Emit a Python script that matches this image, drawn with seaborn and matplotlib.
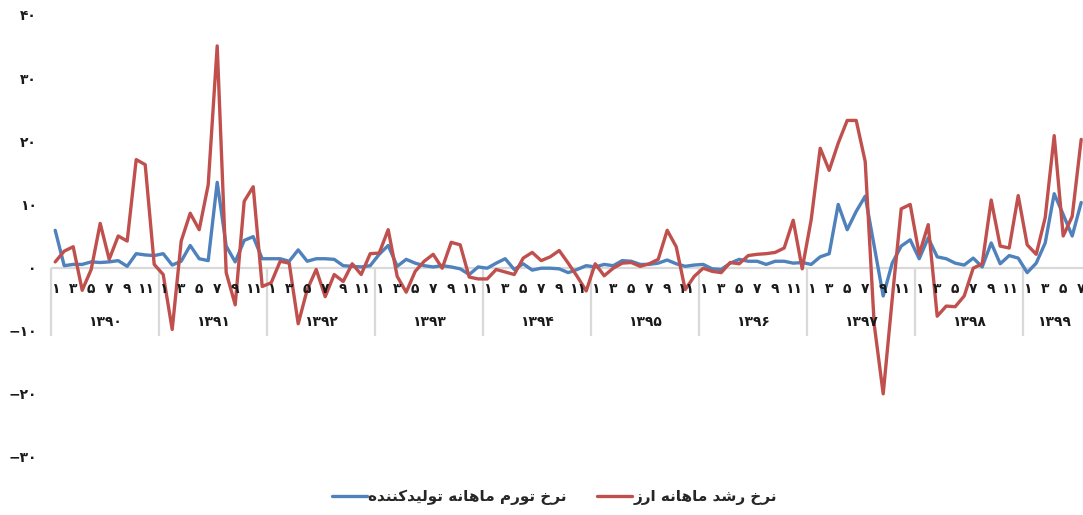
import numpy as np
import pandas as pd
import matplotlib
matplotlib.use("Agg")
import matplotlib.pyplot as plt
import seaborn as sns

# ---------------- data ----------------
years = ["۱۳۹۰", "۱۳۹۱", "۱۳۹۲", "۱۳۹۳", "۱۳۹۴", "۱۳۹۵", "۱۳۹۶", "۱۳۹۷", "۱۳۹۸", "۱۳۹۹"]
months_per_year = [12, 12, 12, 12, 12, 12, 12, 12, 12, 7]
month_labels = ["۱", "۳", "۵", "۷", "۹", "۱۱"]
month_label_numbers = [1, 3, 5, 7, 9, 11]

series_ppi = "نرخ تورم ماهانه تولیدکننده"
series_fx = "نرخ رشد ماهانه ارز"

ppi = [5.9, 0.3, 0.5, 0.5, 0.9, 0.8, 0.9, 1.1, 0.2, 2.2, 2.0, 1.9,
       2.2, 0.4, 1.0, 3.5, 1.4, 1.1, 13.5, 3.4, 0.9, 4.3, 4.9, 1.4,
       1.4, 1.4, 1.0, 2.8, 1.0, 1.4, 1.4, 1.3, 0.3, 0.2, 0.1, 0.3,
       2.1, 3.5, 0.2, 1.3, 0.7, 0.3, 0.1, 0.3, 0.1, -0.2, -1.1, 0.1,
       -0.1, 0.7, 1.4, -0.3, 0.6, -0.4, -0.1, -0.1, -0.2, -0.8, -0.3, 0.3,
       0.1, 0.5, 0.3, 1.1, 1.0, 0.5, 0.5, 0.7, 1.2, 0.6, 0.2, 0.4,
       0.5, -0.2, -0.3, 0.7, 1.3, 1.0, 1.0, 0.5, 1.0, 1.0, 0.7, 0.8,
       0.5, 1.7, 2.2, 10.0, 6.0, 8.9, 11.3, 3.4, -4.5, 0.7, 3.4, 4.4,
       1.4, 4.7, 1.7, 1.4, 0.7, 0.4, 1.5, 0.1, 3.9, 0.6, 1.9, 1.5,
       -0.8, 0.7, 3.9, 11.7, 8.4, 5.0, 10.3]

fx = [0.9, 2.6, 3.3, -3.6, -0.3, 7.0, 1.3, 5.0, 4.2, 17.1, 16.3, 0.5,
      -1.1, -9.8, 4.2, 8.6, 6.0, 13.1, 35.1, -0.8, -5.9, 10.5, 12.8, -3.0,
      -2.4, 1.0, 0.7, -8.9, -3.5, -0.3, -4.6, -1.1, -2.2, 0.6, -1.1, 2.2,
      2.3, 6.0, -1.4, -3.9, -0.6, 1.0, 2.1, -0.1, 4.0, 3.6, -1.5, -1.8,
      -1.8, -0.3, -0.7, -1.1, 1.5, 2.4, 1.1, 1.7, 2.7, 0.7, -1.4, -3.7,
      0.6, -1.3, -0.1, 0.7, 0.8, 0.2, 0.6, 1.3, 5.9, 3.3, -3.5, -1.4,
      -0.1, -0.6, -0.8, 0.8, 0.6, 1.9, 2.1, 2.2, 2.4, 3.1, 7.5, -0.2,
      7.6, 18.9, 15.4, 19.7, 23.3, 23.3, 16.8, -9.0, -20.0, -5.0, 9.3, 10.0,
      2.1, 6.8, -7.7, -6.1, -6.2, -4.5, -0.1, 0.6, 10.7, 3.4, 3.1, 11.4,
      3.6, 2.1, 7.9, 20.9, 5.0, 8.1, 20.3]

y_ticks = [-30, -20, -10, 0, 10, 20, 30, 40]
y_tick_labels = ["−۳۰", "−۲۰", "−۱۰", "۰", "۱۰", "۲۰", "۳۰", "۴۰"]

# ------------- simple Persian shaping (matplotlib has no Arabic shaping) -------------
FORMS = {
    '\u0627': ('\uFE8D', '\uFE8E'),
    '\u062F': ('\uFEA9', '\uFEAA'),
    '\u0631': ('\uFEAD', '\uFEAE'),
    '\u0632': ('\uFEAF', '\uFEB0'),
    '\u0648': ('\uFEED', '\uFEEE'),
    '\u062A': ('\uFE95', '\uFE96', '\uFE97', '\uFE98'),
    '\u062E': ('\uFEA5', '\uFEA6', '\uFEA7', '\uFEA8'),
    '\u0634': ('\uFEB5', '\uFEB6', '\uFEB7', '\uFEB8'),
    '\u0644': ('\uFEDD', '\uFEDE', '\uFEDF', '\uFEE0'),
    '\u0645': ('\uFEE1', '\uFEE2', '\uFEE3', '\uFEE4'),
    '\u0646': ('\uFEE5', '\uFEE6', '\uFEE7', '\uFEE8'),
    '\u0647': ('\uFEE9', '\uFEEA', '\uFEEB', '\uFEEC'),
    '\u06A9': ('\uFB8E', '\uFB8F', '\uFB90', '\uFB91'),
    '\u0643': ('\uFED9', '\uFEDA', '\uFEDB', '\uFEDC'),
    '\u06CC': ('\uFBFC', '\uFBFD', '\uFBFE', '\uFBFF'),
    '\u064A': ('\uFEF1', '\uFEF2', '\uFEF3', '\uFEF4'),
}


def shape(text):
    out = []
    for k, c in enumerate(text):
        f = FORMS.get(c)
        if f is None:
            out.append(c)
            continue
        prev = text[k - 1] if k > 0 else ''
        nxt = text[k + 1] if k + 1 < len(text) else ''
        jp = prev in FORMS and len(FORMS[prev]) == 4
        jn = len(f) == 4 and nxt in FORMS
        if jp and jn:
            out.append(f[3])
        elif jp:
            out.append(f[1])
        elif jn:
            out.append(f[2])
        else:
            out.append(f[0])
    return ''.join(out)[::-1]


# ------------- build table -------------
idx = np.arange(len(ppi))
df = pd.concat([
    pd.DataFrame({"idx": idx, "value": ppi, "series": series_ppi}),
    pd.DataFrame({"idx": idx, "value": fx, "series": series_fx}),
], ignore_index=True)

sns.set_theme(style="white")
plt.rcParams["font.family"] = ["DejaVu Sans"]
plt.rcParams["axes.unicode_minus"] = True

W, H = 1083, 515
fig = plt.figure(figsize=(W / 100, H / 100), dpi=100)
left_px, right_px, top_px, bottom_px = 50.7, 1085.7, 15, 457
ax = fig.add_axes([left_px / W, 1 - bottom_px / H, (right_px - left_px) / W, (bottom_px - top_px) / H])

palette = {series_ppi: "#4F81BD", series_fx: "#C0504D"}
sns.lineplot(data=df, x="idx", y="value", hue="series", hue_order=[series_ppi, series_fx],
             palette=palette, linewidth=2.4, ax=ax, legend=False)

n_total = len(ppi)
ax.set_xlim(-0.5, n_total - 0.5)
ax.set_ylim(-30, 40)
for s in ax.spines.values():
    s.set_visible(False)

ax.set_xticks([])
ax.set_yticks(y_ticks)
ax.set_yticklabels(y_tick_labels, fontsize=10, fontweight="bold", color="#1a1a1a")
ax.tick_params(axis="y", length=0, pad=10)
ax.set_xlabel("")
ax.set_ylabel("")

# category axis at zero
grey = "#D9D9D9"
ax.axhline(0, color=grey, lw=1.6, zorder=1)
starts = np.cumsum([0] + months_per_year[:-1])
bounds = list(starts - 0.5) + [n_total - 0.5]
ax.vlines(bounds, -10.9, 0, colors=grey, lw=1.6, zorder=1, clip_on=False)

for y_i, (st, nm) in enumerate(zip(starts, months_per_year)):
    for lab, m in zip(month_labels, month_label_numbers):
        if m <= nm:
            ax.annotate(lab, xy=(st + m - 1, 0), xytext=(0, -21), textcoords="offset pixels",
                        ha="center", va="center", fontsize=10, fontweight="bold", color="#1a1a1a",
                        annotation_clip=False)
    ax.annotate(years[y_i], xy=(st + (nm - 1) / 2, 0), xytext=(0, -54), textcoords="offset pixels",
                ha="center", va="center", fontsize=10, fontweight="bold", color="#1a1a1a",
                annotation_clip=False)

# legend
handles = [plt.Line2D([], [], color=palette[series_ppi], lw=2.4),
           plt.Line2D([], [], color=palette[series_fx], lw=2.4)]
fig.legend(handles, [shape(series_ppi), shape(series_fx)], loc="center",
           bbox_to_anchor=(0.512, 1 - 497 / H), ncol=2, frameon=False,
           prop={"size": 11, "weight": "bold"}, handlelength=2.3, handletextpad=0.1,
           columnspacing=2.0)

fig.savefig("out.png", dpi=100)
